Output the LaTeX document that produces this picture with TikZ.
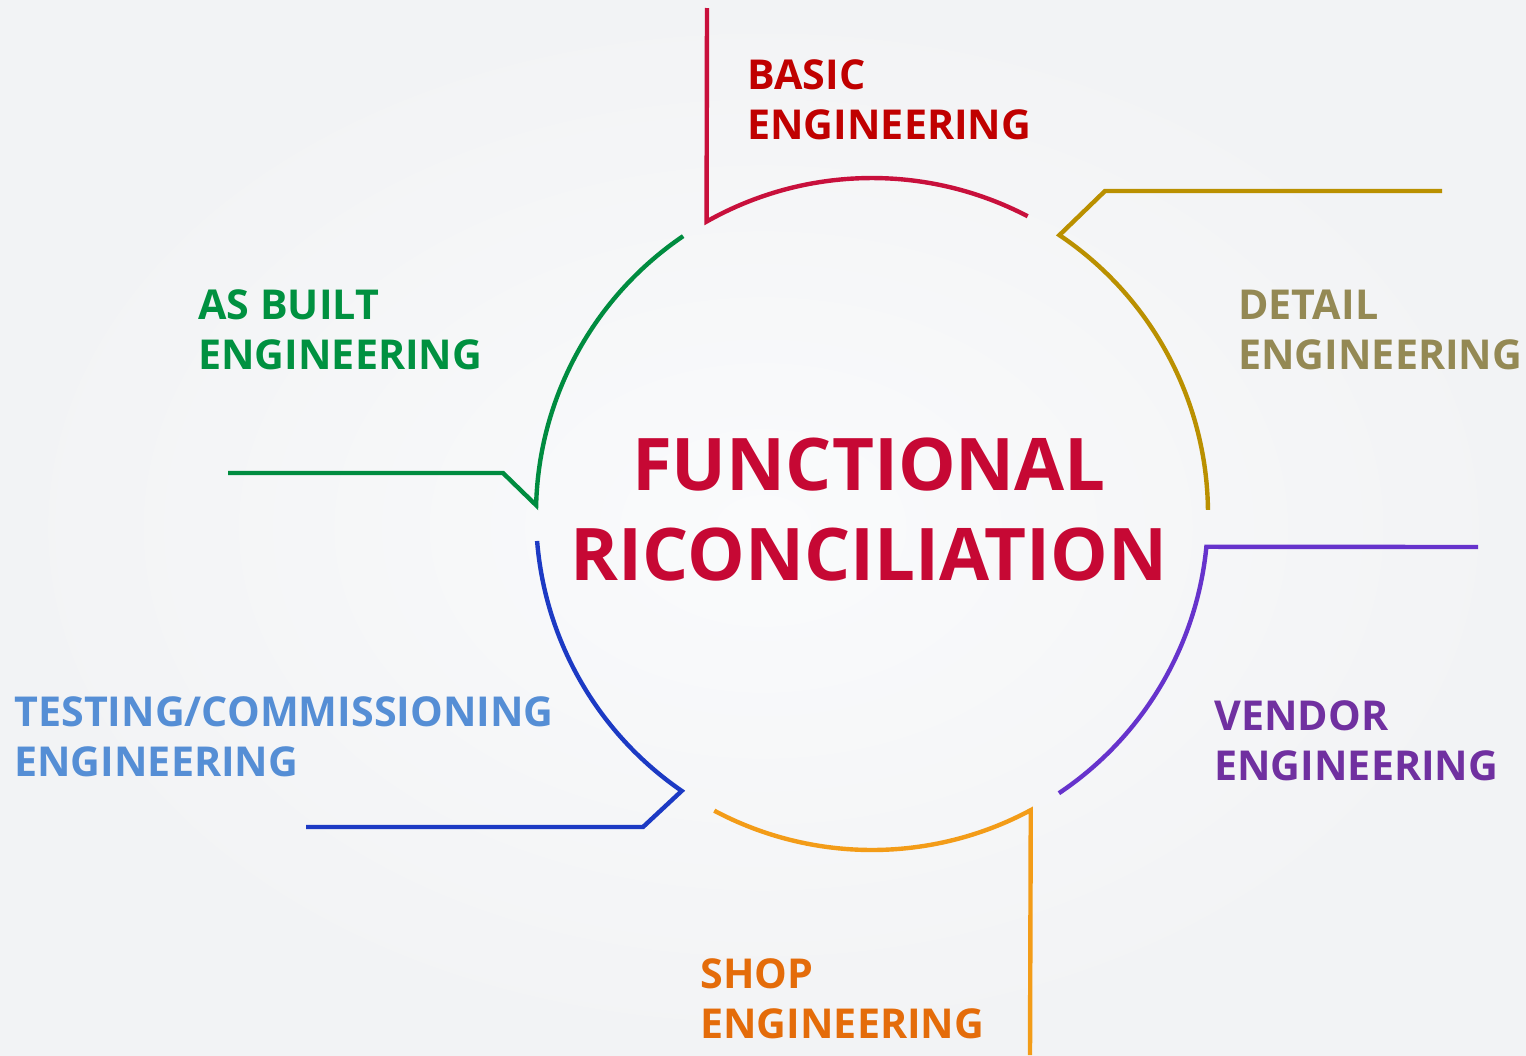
\documentclass[tikz,border=0pt]{standalone}
\usepackage{fontspec}
\setmainfont{Open Sans}
\usetikzlibrary{calc}

\definecolor{bgin}{RGB}{250,251,252}
\definecolor{bgout}{RGB}{242,243,245}
\definecolor{titlered}{RGB}{198,8,52}
\definecolor{basicline}{RGB}{200,16,60}
\definecolor{basictext}{RGB}{192,0,0}
\definecolor{detailline}{RGB}{186,144,0}
\definecolor{detailtext}{RGB}{148,137,84}
\definecolor{builtline}{RGB}{0,140,64}
\definecolor{builttext}{RGB}{0,145,64}
\definecolor{testline}{RGB}{28,58,196}
\definecolor{testtext}{RGB}{85,142,213}
\definecolor{vendorline}{RGB}{102,51,204}
\definecolor{vendortext}{RGB}{112,48,160}
\definecolor{shopline}{RGB}{243,156,24}
\definecolor{shoptext}{RGB}{228,108,10}

\begin{document}
\begin{tikzpicture}[x=0.5pt,y=-0.5pt]

\tikzset{line/.style={draw,line width=2.2pt}}
\tikzset{phase/.style={anchor=base west,inner sep=0pt,align=left,font=\fontsize{20.6}{25}\selectfont\bfseries}}
\tikzset{title/.style={anchor=base,inner sep=0pt,align=center,font=\fontsize{36.3}{45}\selectfont\bfseries,text=titlered}}

\fill[inner color=bgin,outer color=bgout] (0,0) rectangle (1526,1055);
\useasboundingbox (0,0) rectangle (1526,1055);

\coordinate (c) at (872,514);

% basic
\coordinate (b1) at (707,8);
\coordinate (b2) at ($(c)+(119.5:168pt)$);
\path[line,basicline] (b1) -- (b2) arc[start angle=119.5,end angle=62.4,radius=168pt];

% detail
\coordinate (d1) at (1442,191);
\coordinate (d2) at (1105,191);
\coordinate (d3) at ($(c)+(56.1:168pt)$);
\path[line,detailline] (d1) -- (d2) -- (d3) arc[start angle=56.1,end angle=0.7,radius=168pt];

% as built
\coordinate (a1) at (228,473);
\coordinate (a2) at (503,473);
\coordinate (a3) at ($(c)+(178.5:168pt)$);
\path[line,builtline] (a1) -- (a2) -- (a3) arc[start angle=178.5,end angle=124.2,radius=168pt];

% testing
\coordinate (t1) at (306,827);
\coordinate (t2) at (643,827);
\coordinate (t3) at ($(c)+(235.5:168pt)$);
\path[line,testline] (t1) -- (t2) -- (t3) arc[start angle=235.5,end angle=184.6,radius=168pt];

% vendor
\coordinate (v1) at (1478,547);
\coordinate (v2) at ($(c)+(-5.6:168pt)$);
\path[line,vendorline] (v1) -- (v2) arc[start angle=-5.6,end angle=-56.2,radius=168pt];

% shop
\coordinate (s1) at (1030,1055);
\coordinate (s2) at ($(c)+(-61.8:168pt)$);
\path[line,shopline] (s1) -- (s2) arc[start angle=-61.8,end angle=-118,radius=168pt];

\node[title] (func) at (869,580) {FUNCTIONAL\\RICONCILIATION};

\node[phase,text=basictext] (basic) at (747,139) {BASIC\\ENGINEERING};
\node[phase,text=detailtext] (detail) at (1238,369) {DETAIL\\ENGINEERING};
\node[phase,text=builttext] (built) at (198,369) {AS BUILT\\ENGINEERING};
\node[phase,text=testtext] (test) at (14,776) {TESTING/COMMISSIONING\\ENGINEERING};
\node[phase,text=vendortext] (vendor) at (1214,780) {VENDOR\\ENGINEERING};
\node[phase,text=shoptext] (shop) at (700,1038) {SHOP\\ENGINEERING};

\end{tikzpicture}
\end{document}
